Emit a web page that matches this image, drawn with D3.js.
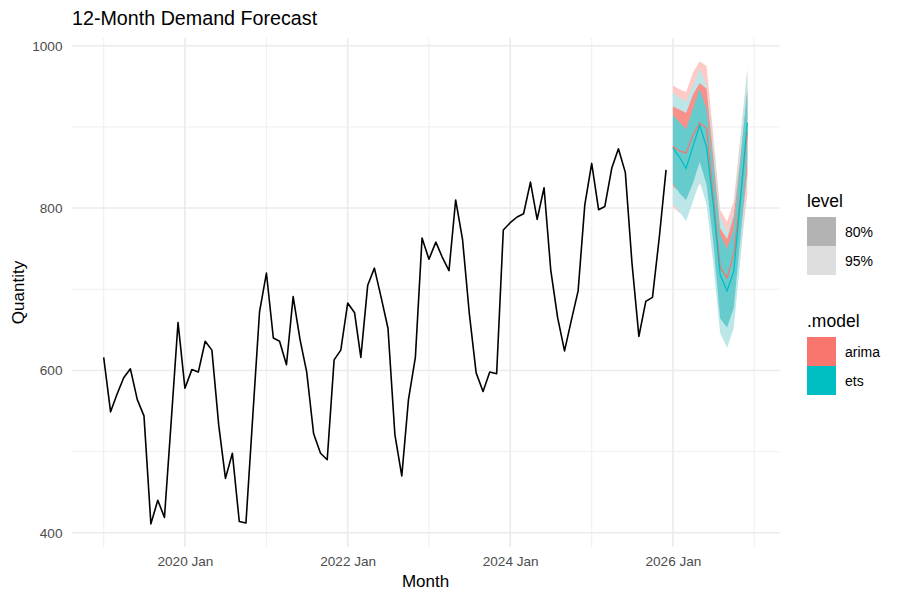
<!DOCTYPE html>
<html>
<head>
<meta charset="utf-8">
<script src="https://cdn.jsdelivr.net/npm/d3@7"></script>
<style>
  body { margin: 0; background: #fff; }
  text { font-family: "Liberation Sans", Arial, Helvetica, sans-serif; }
</style>
</head>
<body>
<script>
// monthly demand, 2019 Jan .. 2025 Dec
var histStart = new Date(2019, 0, 1);
var demand = [
  616, 549, 570, 591, 602, 564, 544, 411, 440, 419, 540, 659,
  578, 601, 598, 636, 625, 532, 467, 498, 414, 412, 545, 672,
  720, 640, 636, 607, 691, 638, 598, 522, 498, 490, 613, 625,
  683, 671, 616, 705, 726, 689, 652, 521, 470, 564, 616, 763,
  737, 758, 740, 723, 810, 761, 671, 597, 574, 598, 596, 773,
  782, 789, 793, 832, 786, 825, 724, 665, 624, 661, 698, 804,
  855, 798, 802, 849, 873, 844, 732, 642, 685, 690, 765, 847
];

// forecasts, 2026 Jan .. 2026 Dec
var fcStart = new Date(2026, 0, 1);
var arimaMean = [876, 870, 868, 890, 905, 898, 815, 727, 714, 743, 817, 893];
var arimaLo80 = [827, 820, 818, 840, 856, 849, 766, 680, 666, 696, 770, 843];
var arimaHi80 = [925, 921, 917, 940, 954, 947, 864, 775, 762, 790, 864, 943];
var arimaLo95 = [801, 794, 793, 814, 830, 822, 740, 652, 640, 670, 744, 818];
var arimaHi95 = [951, 946, 943, 967, 981, 975, 890, 798, 783, 808, 890, 968];

var etsMean = [874, 862, 849, 876, 902, 875, 805, 718, 698, 722, 813, 905];
var etsLo80 = [830, 818, 810, 831, 857, 829, 758, 664, 653, 677, 766, 862];
var etsHi80 = [915, 905, 897, 922, 947, 922, 853, 767, 750, 774, 860, 946];
var etsLo95 = [805, 795, 784, 808, 833, 804, 732, 646, 628, 652, 740, 838];
var etsHi95 = [942, 936, 931, 950, 972, 950, 880, 790, 770, 795, 887, 972];

var yTicks = [400, 600, 800, 1000];
var yMinor = [500, 700, 900];
var xTickYears = [2020, 2022, 2024, 2026];
var xMinorYears = [2019, 2021, 2023, 2025, 2027];

var modelNames = ["arima", "ets"];
var modelColors = ["#F8766D", "#00BFC4"];
var levelNames = ["80%", "95%"];
var levelColors = ["#B3B3B3", "#DEDEDE"];

var width = 900, height = 600;
var panel = {left: 71.5, right: 779.5, top: 38, bottom: 547};

var svg = d3.select("body").append("svg")
    .attr("width", width)
    .attr("height", height);

function monthDates(start, n) {
  return d3.range(n).map(function(i) { return d3.timeMonth.offset(start, i); });
}
var histDates = monthDates(histStart, demand.length);
var fcDates = monthDates(fcStart, arimaMean.length);

// domain with ggplot's 5% expansion
var xmin = histDates[0], xmax = fcDates[fcDates.length - 1];
var span = xmax - xmin;
var x = d3.scaleTime()
    .domain([new Date(+xmin - span * 0.05), new Date(+xmax + span * 0.05)])
    .range([panel.left, panel.right]);

var allVals = demand.concat(arimaLo95, arimaHi95, etsLo95, etsHi95);
var ylo = d3.min(allVals), yhi = d3.max(allVals), yr = yhi - ylo;
var y = d3.scaleLinear()
    .domain([ylo - yr * 0.05, yhi + yr * 0.05])
    .range([panel.bottom, panel.top]);

var grid = svg.append("g");
// minor grid
grid.selectAll(".hmin").data(yMinor).enter().append("line")
    .attr("x1", panel.left).attr("x2", panel.right)
    .attr("y1", function(d) { return y(d); }).attr("y2", function(d) { return y(d); })
    .attr("stroke", "#EBEBEB").attr("stroke-width", 0.8);
grid.selectAll(".vmin").data(xMinorYears).enter().append("line")
    .attr("y1", panel.top).attr("y2", panel.bottom)
    .attr("x1", function(d) { return x(new Date(d, 0, 1)); })
    .attr("x2", function(d) { return x(new Date(d, 0, 1)); })
    .attr("stroke", "#EBEBEB").attr("stroke-width", 0.8);
// major grid
grid.selectAll(".hmaj").data(yTicks).enter().append("line")
    .attr("x1", panel.left).attr("x2", panel.right)
    .attr("y1", function(d) { return y(d); }).attr("y2", function(d) { return y(d); })
    .attr("stroke", "#EBEBEB").attr("stroke-width", 1.6);
grid.selectAll(".vmaj").data(xTickYears).enter().append("line")
    .attr("y1", panel.top).attr("y2", panel.bottom)
    .attr("x1", function(d) { return x(new Date(d, 0, 1)); })
    .attr("x2", function(d) { return x(new Date(d, 0, 1)); })
    .attr("stroke", "#EBEBEB").attr("stroke-width", 1.6);

// demand line
var line = d3.line()
    .x(function(d) { return x(d[0]); })
    .y(function(d) { return y(d[1]); });
svg.append("path")
    .datum(d3.zip(histDates, demand))
    .attr("d", line)
    .attr("fill", "none")
    .attr("stroke", "#000")
    .attr("stroke-width", 1.6)
    .attr("stroke-linejoin", "round");

// ribbons: 95% first, then 80%, each arima then ets
var area = d3.area()
    .x(function(d) { return x(d[0]); })
    .y0(function(d) { return y(d[1]); })
    .y1(function(d) { return y(d[2]); });
var bands = [
  {lo: arimaLo95, hi: arimaHi95, fill: "#FDCAC6"},
  {lo: etsLo95, hi: etsHi95, fill: "#BCE6E7"},
  {lo: arimaLo80, hi: arimaHi80, fill: "#F9918A"},
  {lo: etsLo80, hi: etsHi80, fill: "#66CBCD"}
];
bands.forEach(function(b) {
  svg.append("path")
      .datum(d3.zip(fcDates, b.lo, b.hi))
      .attr("d", area)
      .attr("fill", b.fill);
});

[arimaMean, etsMean].forEach(function(m, i) {
  svg.append("path")
      .datum(d3.zip(fcDates, m))
      .attr("d", line)
      .attr("fill", "none")
      .attr("stroke", modelColors[i])
      .attr("stroke-width", 1.3);
});

// axes (text only, like theme_minimal)
var xAxis = d3.axisBottom(x)
    .tickValues(xTickYears.map(function(d) { return new Date(d, 0, 1); }))
    .tickFormat(d3.timeFormat("%Y %b"))
    .tickSize(0).tickPadding(9);
var gx = svg.append("g").attr("transform", "translate(0," + panel.bottom + ")").call(xAxis);
var yAxis = d3.axisLeft(y).tickValues(yTicks).tickFormat(d3.format("d"))
    .tickSize(0).tickPadding(9);
var gy = svg.append("g").attr("transform", "translate(" + panel.left + ",0)").call(yAxis);
[gx, gy].forEach(function(g) {
  g.select(".domain").remove();
  g.selectAll("text").attr("fill", "#4D4D4D").style("font-size", "13.6px");
});

svg.append("text")
    .attr("x", (panel.left + panel.right) / 2).attr("y", 587)
    .attr("text-anchor", "middle").style("font-size", "17px")
    .text("Month");
svg.append("text")
    .attr("transform", "translate(24," + ((panel.top + panel.bottom) / 2) + ") rotate(-90)")
    .attr("text-anchor", "middle").style("font-size", "17px")
    .text("Quantity");
svg.append("text")
    .attr("x", 72).attr("y", 25)
    .style("font-size", "19.7px")
    .text("12-Month Demand Forecast");

// legends
var leg = svg.append("g").attr("transform", "translate(807,0)");
function legendBlock(title, top, names, colors) {
  leg.append("text").attr("x", 0).attr("y", top).style("font-size", "17.5px").text(title);
  names.forEach(function(n, i) {
    leg.append("rect")
        .attr("x", 0).attr("y", top + 10 + i * 29)
        .attr("width", 29).attr("height", 29)
        .attr("fill", colors[i]);
    leg.append("text")
        .attr("x", 38).attr("y", top + 10 + i * 29 + 19.5)
        .style("font-size", "14px")
        .text(n);
  });
}
legendBlock("level", 207, levelNames, levelColors);
legendBlock(".model", 327, modelNames, modelColors);
</script>
</body>
</html>
